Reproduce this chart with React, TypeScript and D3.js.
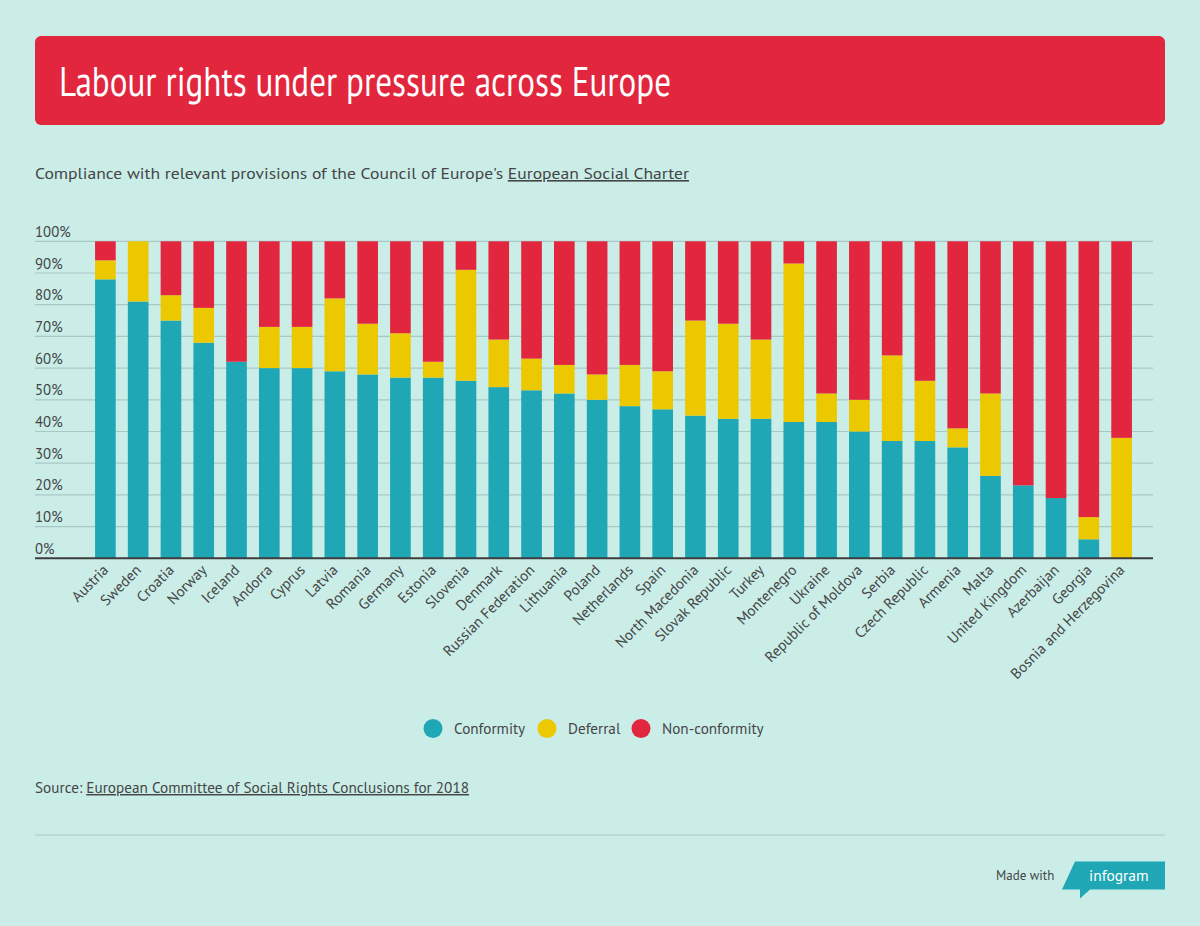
import React from "react";
import * as d3 from "d3";

const countries = [
  "Austria", "Sweden", "Croatia", "Norway", "Iceland", "Andorra", "Cyprus", "Latvia",
  "Romania", "Germany", "Estonia", "Slovenia", "Denmark", "Russian Federation", "Lithuania",
  "Poland", "Netherlands", "Spain", "North Macedonia", "Slovak Republic", "Turkey",
  "Montenegro", "Ukraine", "Republic of Moldova", "Serbia", "Czech Republic", "Armenia",
  "Malta", "United Kingdom", "Azerbaijan", "Georgia", "Bosnia and Herzegovina",
];
const conformity = [88, 81, 75, 68, 62, 60, 60, 59, 58, 57, 57, 56, 54, 53, 52, 50, 48, 47, 45, 44, 44, 43, 43, 40, 37, 37, 35, 26, 23, 19, 6, 0];
const deferral = [6, 19, 8, 11, 0, 13, 13, 23, 16, 14, 5, 35, 15, 10, 9, 8, 13, 12, 30, 30, 25, 50, 9, 10, 27, 19, 6, 26, 0, 0, 7, 38];
const nonConformity = [6, 0, 17, 21, 38, 27, 27, 18, 26, 29, 38, 9, 31, 37, 39, 42, 39, 41, 25, 26, 31, 7, 48, 50, 36, 44, 59, 48, 77, 81, 87, 62];
const seriesNames = ["Conformity", "Deferral", "Non-conformity"];
const seriesKeys = ["conformity", "deferral", "nonConformity"];
const yTicks = [0, 10, 20, 30, 40, 50, 60, 70, 80, 90, 100];

const COLORS = ["#1fa7b5", "#ebc800", "#e1263e"];
const BG = "#caede8";
const TEXT = "#454545";
const FONT = "'PT Sans', Lato, 'Noto Sans', sans-serif";

export default function App() {
  const rows = countries.map((c, i) => ({
    country: c,
    conformity: conformity[i],
    deferral: deferral[i],
    nonConformity: nonConformity[i],
  }));
  const stacked = d3.stack<any>().keys(seriesKeys)(rows);

  const x = d3.scaleBand<string>().domain(countries).range([89, 1138]).paddingInner(0.37).paddingOuter(0.185);
  const y = d3.scaleLinear().domain([0, 100]).range([558.3, 241.3]);

  const legendCircleX = [433, 547, 641];

  return (
    <div style={{ position: "absolute", left: 0, top: 0 }}>
      <svg width={1200} height={926} style={{ display: "block", fontFamily: FONT }}>
        <rect x={0} y={0} width={1200} height={926} fill={BG} />
        {/* title */}
        <rect x={35} y={36} width={1130} height={89} rx={6} fill="#e1263e" />
        <text x={59} y={96} fontSize={41} fill="#fff" textLength={612} lengthAdjust="spacingAndGlyphs">
          Labour rights under pressure across Europe
        </text>
        {/* subtitle */}
        <text x={35} y={179} fontSize={16} fill={TEXT} textLength={654} lengthAdjust="spacingAndGlyphs">
          Compliance with relevant provisions of the Council of Europe's{" "}
          <tspan style={{ textDecoration: "underline" }}>European Social Charter</tspan>
        </text>

        {/* grid */}
        {yTicks.map((t) => (
          <g key={t}>
            {t > 0 && (
              <line x1={35} x2={1153} y1={y(t)} y2={y(t)} stroke="#a8c8c4" strokeWidth={1.2} />
            )}
            <text x={35} y={y(t) - 4.5} fontSize={14.8} fill={TEXT}>
              {t}%
            </text>
          </g>
        ))}

        {/* bars */}
        {stacked.map((s, si) => (
          <g key={s.key} fill={COLORS[si]}>
            {s.map((d, i) => {
              const h = y(d[0]) - y(d[1]);
              if (h <= 0) return null;
              return (
                <rect
                  key={i}
                  x={x(countries[i])}
                  y={y(d[1])}
                  width={x.bandwidth()}
                  height={h}
                />
              );
            })}
          </g>
        ))}

        {/* baseline */}
        <line x1={35} x2={1153} y1={y(0)} y2={y(0)} stroke="#3d3d3d" strokeWidth={2} />

        {/* x labels */}
        {countries.map((c) => {
          const cx = (x(c) as number) + x.bandwidth() / 2;
          return (
            <text
              key={c}
              transform={`translate(${cx + 4},${571}) rotate(-45)`}
              textAnchor="end"
              fontSize={15}
              fill={TEXT}
            >
              {c}
            </text>
          );
        })}

        {/* legend */}
        {seriesNames.map((n, i) => (
          <g key={n}>
            <circle cx={legendCircleX[i]} cy={728.5} r={9.5} fill={COLORS[i]} />
            <text x={legendCircleX[i] + 21} y={733.5} fontSize={15.2} fill={TEXT}>
              {n}
            </text>
          </g>
        ))}

        {/* source */}
        <text x={35} y={793} fontSize={14.5} fill={TEXT} textLength={434} lengthAdjust="spacingAndGlyphs">
          Source:{" "}
          <tspan style={{ textDecoration: "underline" }}>European Committee of Social Rights Conclusions for 2018</tspan>
        </text>

        <line x1={35} x2={1165} y1={835} y2={835} stroke="#a8c8c4" strokeWidth={1.2} />

        {/* made with infogram */}
        <text x={996} y={880} fontSize={13} fill={TEXT}>
          Made with
        </text>
        <path d="M1075,861.5 L1165,861.5 L1165,889.5 L1090,889.5 L1080,898.5 L1080,889.5 L1062,889.5 Z" fill="#1fa7b5" />
        <text x={1089} y={881} fontSize={15.5} fill="#fff">
          infogram
        </text>
      </svg>
    </div>
  );
}
